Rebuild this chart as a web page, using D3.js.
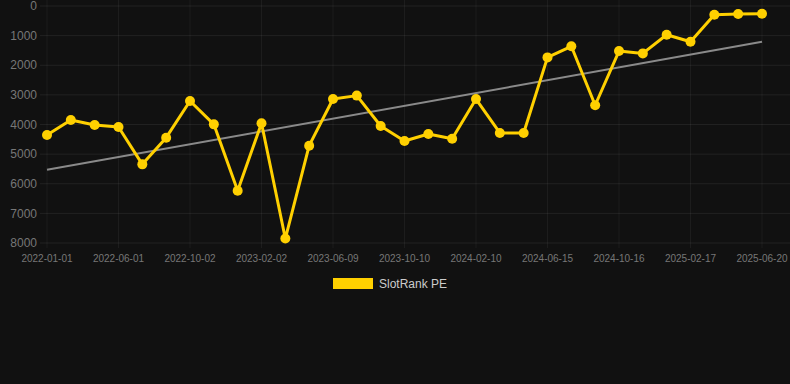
<!DOCTYPE html>
<html><head><meta charset="utf-8">
<script src="https://cdn.jsdelivr.net/npm/d3@7"></script>
<style>html,body{margin:0;padding:0;background:#111111;}svg{display:block;}</style>
</head><body>
<svg id="c" width="790" height="384"></svg>
<script>
const dates = ["2022-01-01","2022-02-20","2022-04-11","2022-06-01","2022-07-11","2022-08-21","2022-10-02","2022-11-11","2022-12-23","2023-02-02","2023-03-16","2023-04-27","2023-06-09","2023-07-20","2023-08-30","2023-10-10","2023-11-20","2023-12-31","2024-02-10","2024-03-22","2024-05-04","2024-06-15","2024-07-26","2024-09-05","2024-10-16","2024-11-26","2025-01-07","2025-02-17","2025-03-30","2025-05-10","2025-06-20"];
const ranks = [4355,3850,4015,4085,5345,4445,3205,3995,6235,3960,7850,4715,3140,3025,4050,4555,4320,4480,3140,4285,4285,1735,1360,3350,1520,1600,970,1205,293,270,260];
const trend = [5530,1210];
const yTicks = [0,1000,2000,3000,4000,5000,6000,7000,8000];
const seriesName = "SlotRank PE";

(function(){
const svg = d3.select("#c");
const pl = 47, pr = 762, pt = 6, pb = 243;
const x = d3.scalePoint().domain(dates).range([pl, pr]);
const y = d3.scaleLinear().domain([0, 8000]).range([pt, pb]);

const g = svg.append("g");
g.selectAll(".hg").data(yTicks).join("line")
  .attr("x1", 40).attr("x2", 790).attr("y1", d=>y(d)).attr("y2", d=>y(d))
  .attr("stroke", "rgba(255,255,255,0.07)").attr("stroke-width",1);
const shown = dates.filter((d,i)=>i%3===0);
g.selectAll(".vg").data(shown).join("line")
  .attr("x1", d=>x(d)).attr("x2", d=>x(d)).attr("y1", 0).attr("y2", pb+5)
  .attr("stroke", "rgba(255,255,255,0.05)").attr("stroke-width",1);

svg.append("g").selectAll("text").data(yTicks).join("text")
  .attr("x", 37).attr("y", d=>y(d)).attr("dy","0.35em")
  .attr("text-anchor","end").attr("fill","#777")
  .style("font","12px 'Liberation Sans', Arial, sans-serif")
  .text(d=>d);
svg.append("g").selectAll("text").data(shown).join("text")
  .attr("x", d=>x(d)).attr("y", 262)
  .attr("text-anchor","middle").attr("fill","#777")
  .style("font","10px 'Liberation Sans', Arial, sans-serif")
  .text(d=>d);

svg.append("line")
  .attr("x1", x(dates[0])).attr("y1", y(trend[0]))
  .attr("x2", x(dates[dates.length-1])).attr("y2", y(trend[1]))
  .attr("stroke","#8a8a8a").attr("stroke-width",2);

const pts = dates.map((d,i)=>[x(d), y(ranks[i])]);
svg.append("path").attr("d", d3.line()(pts))
  .attr("fill","none").attr("stroke","#FFD000").attr("stroke-width",3)
  .attr("stroke-linejoin","round");
svg.append("g").selectAll("circle").data(pts).join("circle")
  .attr("cx", d=>d[0]).attr("cy", d=>d[1]).attr("r",5)
  .attr("fill","#FFD000");

svg.append("rect").attr("x",333).attr("y",278).attr("width",40).attr("height",11).attr("fill","#FFD000");
svg.append("text").attr("x",379).attr("y",284).attr("dy","0.35em")
  .attr("fill","#ccc").style("font","12px 'Liberation Sans', Arial, sans-serif")
  .text(seriesName);
})();
</script>
</body></html>
